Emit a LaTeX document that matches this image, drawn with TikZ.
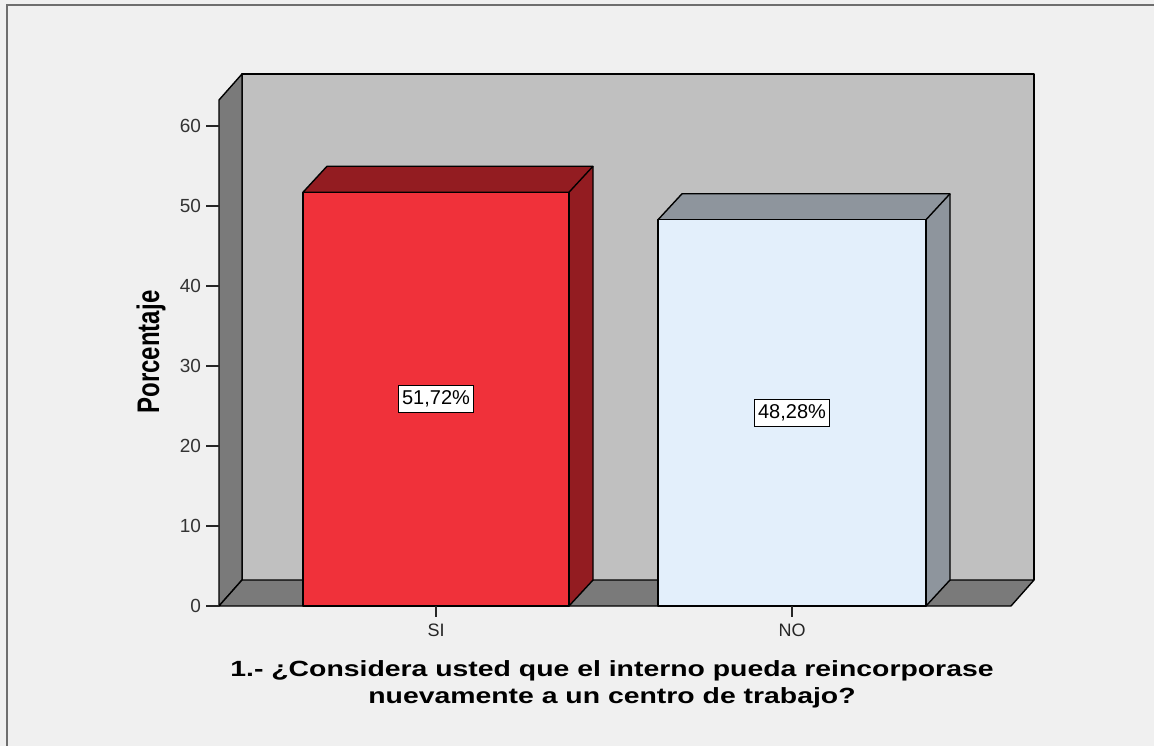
\documentclass[tikz,border=0pt]{standalone}
\usepackage{fontspec}
\setmainfont{Liberation Sans}
\usetikzlibrary{positioning}
\definecolor{chartbg}{HTML}{F0F0F0}
\definecolor{wallgray}{HTML}{C0C0C0}
\definecolor{floorgray}{HTML}{7A7A7A}
\definecolor{framegray}{HTML}{6E6E6E}
\definecolor{sifront}{HTML}{F0313A}
\definecolor{siside}{HTML}{931C21}
\definecolor{nofront}{HTML}{E3EFFB}
\definecolor{noside}{HTML}{8E959D}
\newcommand{\widetext}[1]{\scalebox{1.29}[1]{#1}}
\begin{document}
\begin{tikzpicture}[x = 1pt, y = -1pt,
		edge/.style = {draw = black, line width = 1.4pt, line join = round},
		pctbox/.style = {draw = black, fill = white, line width = 1pt, inner xsep = 4pt, inner ysep = 5pt, font = \fontsize{20}{20}\selectfont},
		ticklab/.style = {anchor = east, font = \fontsize{19}{19}\selectfont, text = black!80},
		catlab/.style = {anchor = north, font = \fontsize{18}{18}\selectfont, text = black!85},
		titlelab/.style = {anchor = base, font = \bfseries\fontsize{22}{22}\selectfont}]
	\useasboundingbox (0, 0) rectangle (1154, 746);
	\fill[chartbg] (0, 0) rectangle (1154, 746);
	\draw[framegray, line width = 2pt] (7, 746) -- (7, 5) -- (1154, 5);
	% walls and floor
	\fill[wallgray] (242, 74) rectangle (1034, 580);
	\draw[edge] (242, 580) -- (242, 74) -- (1034, 74) -- (1034, 580);
	\draw[edge, fill = floorgray] (219, 606) -- (219, 100) -- (242, 74) -- (242, 580) -- cycle;
	\draw[edge, fill = floorgray] (219, 606) -- (242, 580) -- (1034, 580) -- (1011, 606) -- cycle;
	% value axis
	\foreach \v in {0, 10, ..., 60}
		\draw[black!85, line width = 1.4pt] (206, {606 - 8 * \v}) -- (219, {606 - 8 * \v}) node at (205, {606 - 8 * \v}) [ticklab] {\v};
	\node (ylabel) at (151, 352) [rotate = 90, font = \bfseries\fontsize{24}{24}\selectfont] {\scalebox{1}[1.3]{Porcentaje}};
	% bar SI
	\draw[edge, fill = siside] (303, {606 - 8 * 51.72}) -- (327, {580 - 8 * 51.72}) -- (593, {580 - 8 * 51.72}) -- (593, 580) -- (569, 606) -- (569, {606 - 8 * 51.72}) -- cycle;
	\draw[edge] (569, {606 - 8 * 51.72}) -- (593, {580 - 8 * 51.72});
	\draw[edge, fill = sifront] (303, 606) rectangle (569, {606 - 8 * 51.72});
	% bar NO
	\draw[edge, fill = noside] (658, {606 - 8 * 48.28}) -- (682, {580 - 8 * 48.28}) -- (950, {580 - 8 * 48.28}) -- (950, 580) -- (926, 606) -- (926, {606 - 8 * 48.28}) -- cycle;
	\draw[edge] (926, {606 - 8 * 48.28}) -- (950, {580 - 8 * 48.28});
	\draw[edge, fill = nofront] (658, 606) rectangle (926, {606 - 8 * 48.28});
	\node (pctsi) at (436, {606 - 4 * 51.72}) [pctbox] {51,72\%};
	\node (pctno) at (792, {606 - 4 * 48.28}) [pctbox] {48,28\%};
	% category axis
	\draw[black!85, line width = 1.4pt] (436, 606) -- (436, 617) node at (436, 620) [catlab] (catsi) {SI};
	\draw[black!85, line width = 1.4pt] (792, 606) -- (792, 617) node at (792, 620) [catlab] (catno) {NO};
	\node (title1) at (612, 676) [titlelab] {\widetext{1.- ¿Considera usted que el interno pueda reincorporase}};
	\node (title2) at (612, 703) [titlelab] {\widetext{nuevamente a un centro de trabajo?}};
\end{tikzpicture}
\end{document}
